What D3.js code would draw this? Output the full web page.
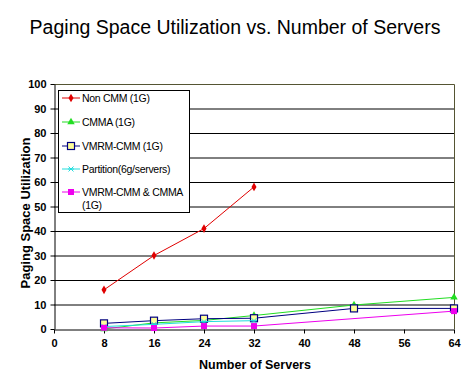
<!DOCTYPE html>
<html>
<head>
<meta charset="utf-8">
<script src="https://cdn.jsdelivr.net/npm/d3@7"></script>
<style>
body { margin: 0; background: #fff; }
svg { font-family: Arial, "Liberation Sans", sans-serif; }
</style>
</head>
<body>
<script>
var servers = [8, 16, 24, 32, 48, 64];
var nonCmm = [16, 30, 41, 58, null, null];
var cmma = [0, 2.5, 3.5, 5.5, 9.8, 12.9];
var vmrmCmm = [2.3, 3.4, 4.2, 4.4, 8.4, 8.4];
var partition = [1, 1.9, 3, 3.4, null, null];
var vmrmCmma = [0.5, 0.4, 1.2, 1.2, null, 7.3];

var xTicks = [0, 8, 16, 24, 32, 40, 48, 56, 64];
var yTicks = [0, 10, 20, 30, 40, 50, 60, 70, 80, 90, 100];

var series = [
	{ name: "Non CMM (1G)", values: nonCmm, color: "#e00000", marker: "diamond" },
	{ name: "CMMA (1G)", values: cmma, color: "#22dd22", marker: "triangle" },
	{ name: "VMRM-CMM (1G)", values: vmrmCmm, color: "#000080", marker: "square" },
	{ name: "Partition(6g/servers)", values: partition, color: "#22dddd", marker: "star" },
	{ name: ["VMRM-CMM & CMMA", "(1G)"], values: vmrmCmma, color: "#ee00ee", marker: "square" }
];

var W = 474, H = 387;
var svg = d3.select("body").append("svg").attr("width", W).attr("height", H);

var x = d3.scaleLinear().domain([0, 64]).range([54, 454]);
var y = d3.scaleLinear().domain([0, 100]).range([329, 84]);

svg.append("text").attr("x", 235).attr("y", 34).attr("text-anchor", "middle")
	.attr("font-size", 19.5).text("Paging Space Utilization vs. Number of Servers");

// gridlines
svg.append("g").selectAll("line").data(yTicks.slice(1, -1)).join("line")
	.attr("x1", x(0)).attr("x2", x(64))
	.attr("y1", d => y(d) + 0.5).attr("y2", d => y(d) + 0.5)
	.attr("stroke", "#000").attr("stroke-width", 1);

// plot border (top/right)
svg.append("path")
	.attr("d", "M" + x(0) + "," + (y(100) + 0.5) + "H" + (x(64) + 0.5) + "V" + y(0))
	.attr("fill", "none").attr("stroke", "#555533").attr("stroke-width", 1);

var xAxis = svg.append("g").attr("transform", "translate(0," + (y(0) + 0.5) + ")")
	.call(d3.axisBottom(x).tickValues(xTicks).tickSize(4).tickSizeOuter(0).tickPadding(6));
var yAxis = svg.append("g").attr("transform", "translate(" + (x(0) + 0.5) + ",0)")
	.call(d3.axisLeft(y).tickValues(yTicks).tickSize(4).tickSizeOuter(0).tickPadding(4));
[xAxis, yAxis].forEach(function(g) {
	g.select(".domain").attr("stroke", "#000");
	g.selectAll(".tick line").attr("stroke", "#000");
	g.selectAll("text").attr("font-size", 11).attr("font-weight", "bold")
		.attr("font-family", "Arial, 'Liberation Sans', sans-serif").attr("fill", "#000");
});

svg.append("text").attr("x", 255).attr("y", 369).attr("text-anchor", "middle")
	.attr("font-size", 12.5).attr("font-weight", "bold").text("Number of Servers");
svg.append("text").attr("transform", "translate(30,213) rotate(-90)").attr("text-anchor", "middle")
	.attr("font-size", 13).attr("font-weight", "bold").text("Paging Space Utilization");

function drawMarker(g, type, color, cx, cy) {
	if (type === "diamond") {
		g.append("path").attr("d", d3.symbol(d3.symbolDiamond, 22)())
			.attr("transform", "translate(" + cx + "," + cy + ")").attr("fill", color);
	} else if (type === "triangle") {
		g.append("path").attr("d", d3.symbol(d3.symbolTriangle, 24)())
			.attr("transform", "translate(" + cx + "," + cy + ")").attr("fill", color);
	} else if (type === "square" && color === "#000080") {
		g.append("rect").attr("x", cx - 3.5).attr("y", cy - 3.5).attr("width", 7).attr("height", 7)
			.attr("fill", "#ffff99").attr("stroke", color).attr("stroke-width", 1.2);
	} else if (type === "square") {
		g.append("rect").attr("x", cx - 3).attr("y", cy - 3).attr("width", 6).attr("height", 6)
			.attr("fill", color);
	} else if (type === "star") {
		g.append("path").attr("d", "M" + (cx - 3) + "," + cy + "H" + (cx + 3) +
			"M" + (cx - 2.5) + "," + (cy - 2.5) + "L" + (cx + 2.5) + "," + (cy + 2.5) +
			"M" + (cx - 2.5) + "," + (cy + 2.5) + "L" + (cx + 2.5) + "," + (cy - 2.5))
			.attr("stroke", color).attr("stroke-width", 1);
	}
}

var line = d3.line().defined(d => d[1] != null).x(d => x(d[0])).y(d => y(d[1]));
series.forEach(function(s) {
	var pts = servers.map((v, i) => [v, s.values[i]]).filter(d => d[1] != null);
	var g = svg.append("g");
	g.append("path").datum(pts).attr("d", line).attr("fill", "none")
		.attr("stroke", s.color).attr("stroke-width", 1);
	pts.forEach(function(d) { drawMarker(g, s.marker, s.color, x(d[0]), y(d[1])); });
});

// legend
var lg = svg.append("g");
lg.append("rect").attr("x", 58.5).attr("y", 90.5).attr("width", 131).attr("height", 122)
	.attr("fill", "#fff").attr("stroke", "#000");
var rowsY = [98, 122, 146, 169, 192];
series.forEach(function(s, i) {
	var cy = rowsY[i];
	lg.append("line").attr("x1", 62).attr("x2", 80).attr("y1", cy).attr("y2", cy)
		.attr("stroke", s.color).attr("stroke-width", 1);
	drawMarker(lg, s.marker, s.color, 71, cy);
	var names = Array.isArray(s.name) ? s.name : [s.name];
	names.forEach(function(n, j) {
		lg.append("text").attr("x", 82).attr("y", cy + 4 + j * 13).attr("font-size", 10.5)
			.attr("letter-spacing", -0.3).text(n);
	});
});
</script>
</body>
</html>
